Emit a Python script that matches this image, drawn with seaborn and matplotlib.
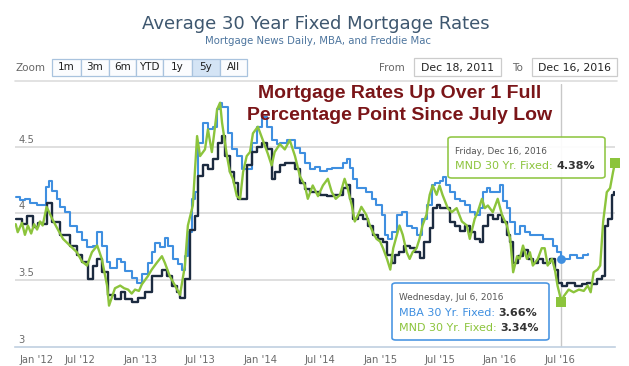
import matplotlib
matplotlib.use("Agg")
import matplotlib.pyplot as plt
import seaborn as sns
import pandas as pd
from matplotlib.patches import FancyBboxPatch, Rectangle

# ---------------- data ----------------
mba_dates = ["2011-12-19","2012-01-01","2012-01-16","2012-02-01","2012-02-22","2012-03-10","2012-03-20",
             "2012-03-30","2012-04-08","2012-04-23","2012-05-02","2012-05-17","2012-06-01","2012-06-22",
             "2012-07-08","2012-07-23","2012-08-10","2012-08-23","2012-09-06","2012-09-22","2012-10-01",
             "2012-10-22","2012-11-03","2012-11-15","2012-12-06","2012-12-22","2013-01-06","2013-01-24",
             "2013-02-05","2013-02-15","2013-03-02","2013-03-17","2013-03-26","2013-04-11","2013-04-26",
             "2013-05-08","2013-05-17","2013-05-26","2013-06-07","2013-06-16","2013-06-25","2013-07-11",
             "2013-07-26","2013-08-10","2013-08-23","2013-09-01","2013-09-07","2013-09-25","2013-10-07",
             "2013-10-22","2013-11-06","2013-11-21","2013-12-06","2013-12-22","2014-01-06","2014-01-21",
             "2014-02-05","2014-02-21","2014-03-02","2014-03-23","2014-04-01","2014-04-17","2014-05-02",
             "2014-05-17","2014-06-01","2014-06-16","2014-07-01","2014-07-22","2014-08-07","2014-08-25",
             "2014-09-09","2014-09-21","2014-10-01","2014-10-10","2014-10-22","2014-11-05","2014-11-20",
             "2014-12-06","2014-12-21","2015-01-06","2015-01-15","2015-01-24","2015-02-05","2015-02-21",
             "2015-03-08","2015-03-23","2015-04-07","2015-04-22","2015-05-08","2015-05-23","2015-06-07",
             "2015-06-16","2015-07-01","2015-07-10","2015-07-22","2015-08-01","2015-08-16","2015-09-01",
             "2015-09-16","2015-10-01","2015-10-16","2015-11-01","2015-11-10","2015-11-21","2015-12-01",
             "2015-12-16","2016-01-01","2016-01-10","2016-01-22","2016-02-01","2016-02-16","2016-03-01",
             "2016-03-16","2016-04-01","2016-04-22","2016-05-10","2016-05-25","2016-06-09","2016-06-21",
             "2016-07-06","2016-07-15","2016-08-01","2016-08-22","2016-09-09","2016-09-24"]
mba_vals = [4.12,4.10,4.11,4.08,4.06,4.06,4.20,
            4.24,4.17,4.11,4.05,4.01,3.91,3.86,
            3.80,3.75,3.76,3.86,3.76,3.64,3.59,
            3.66,3.64,3.57,3.52,3.48,3.55,3.63,
            3.71,3.78,3.75,3.82,3.76,3.66,3.62,
            3.58,3.68,3.86,4.11,4.16,4.53,4.68,
            4.63,4.65,4.78,4.83,4.80,4.60,4.48,
            4.43,4.33,4.33,4.53,4.65,4.72,4.65,
            4.55,4.52,4.53,4.55,4.55,4.49,4.45,
            4.38,4.33,4.35,4.32,4.33,4.34,4.34,
            4.38,4.41,4.34,4.26,4.19,4.19,4.16,
            4.11,4.06,3.99,3.84,3.81,3.86,3.99,
            4.01,3.91,3.89,3.84,3.96,4.06,4.21,
            4.23,4.24,4.27,4.21,4.16,4.11,4.09,
            4.06,4.01,3.99,4.04,4.16,4.19,4.16,
            4.16,4.21,4.09,4.04,3.94,3.85,3.91,
            3.86,3.84,3.84,3.81,3.81,3.76,3.71,
            3.66,3.66,3.69,3.67,3.69,3.70]

fred_dates = ["2011-12-19","2012-01-07","2012-01-22","2012-02-10","2012-02-25","2012-03-10","2012-03-22",
              "2012-04-08","2012-05-02","2012-06-01","2012-06-22","2012-07-08","2012-07-26","2012-08-10",
              "2012-08-23","2012-09-06","2012-09-25","2012-10-17","2012-11-03","2012-11-15","2012-12-06",
              "2012-12-25","2013-01-15","2013-02-05","2013-02-20","2013-03-08","2013-03-23","2013-04-08",
              "2013-04-23","2013-05-02","2013-05-17","2013-06-01","2013-06-16","2013-06-25","2013-07-11",
              "2013-07-26","2013-08-10","2013-08-26","2013-09-07","2013-09-16","2013-10-01","2013-10-13",
              "2013-10-26","2013-11-06","2013-11-21","2013-12-06","2013-12-22","2014-01-06","2014-01-21",
              "2014-02-05","2014-02-14","2014-03-02","2014-03-17","2014-04-01","2014-04-17","2014-05-02",
              "2014-05-17","2014-06-01","2014-06-16","2014-07-01","2014-07-22","2014-08-10","2014-08-25",
              "2014-09-09","2014-09-21","2014-10-01","2014-10-10","2014-10-26","2014-11-10","2014-11-25",
              "2014-12-10","2014-12-26","2015-01-10","2015-01-22","2015-02-05","2015-02-14","2015-03-01",
              "2015-03-16","2015-04-01","2015-04-16","2015-05-01","2015-05-16","2015-06-01","2015-06-10",
              "2015-06-22","2015-07-01","2015-07-16","2015-08-01","2015-08-16","2015-09-01","2015-09-16",
              "2015-10-01","2015-10-16","2015-11-01","2015-11-10","2015-11-25","2015-12-10","2015-12-25",
              "2016-01-07","2016-01-22","2016-02-01","2016-02-10","2016-02-26","2016-03-11","2016-03-26",
              "2016-04-10","2016-04-25","2016-05-10","2016-05-31","2016-06-15","2016-06-24","2016-07-09",
              "2016-07-24","2016-08-15","2016-09-06","2016-09-21","2016-10-06","2016-10-21","2016-11-06",
              "2016-11-15","2016-11-24","2016-12-06","2016-12-13"]
fred_vals = [3.96,3.92,3.98,3.90,3.93,3.92,4.08,
             3.94,3.84,3.76,3.69,3.64,3.51,3.61,
             3.66,3.56,3.39,3.36,3.41,3.36,3.34,
             3.37,3.41,3.53,3.53,3.58,3.53,3.46,
             3.41,3.37,3.51,3.88,3.98,4.28,4.36,
             4.33,4.41,4.53,4.58,4.43,4.31,4.23,
             4.11,4.11,4.36,4.46,4.50,4.53,4.48,
             4.26,4.31,4.36,4.38,4.38,4.33,4.23,
             4.18,4.16,4.16,4.14,4.13,4.14,4.14,
             4.19,4.21,4.11,3.96,3.99,3.96,3.91,
             3.84,3.81,3.79,3.69,3.63,3.69,3.71,
             3.76,3.74,3.71,3.67,3.79,3.89,4.04,
             4.06,4.04,4.04,3.94,3.91,3.87,3.91,
             3.86,3.81,3.79,3.91,3.99,3.96,3.99,
             3.94,3.84,3.79,3.63,3.68,3.73,3.66,
             3.63,3.66,3.63,3.66,3.58,3.48,3.46,
             3.48,3.46,3.47,3.48,3.47,3.51,3.53,
             3.91,3.96,4.14,4.16]

mnd_dates = ["2011-12-19","2011-12-25","2012-01-07","2012-01-16","2012-01-25","2012-02-04","2012-02-13",
             "2012-02-22","2012-03-02","2012-03-10","2012-03-22","2012-04-08","2012-04-23","2012-05-11",
             "2012-06-01","2012-06-22","2012-07-08","2012-07-23","2012-08-07","2012-08-23","2012-09-06",
             "2012-09-22","2012-09-28","2012-10-16","2012-11-01","2012-11-13","2012-11-25","2012-12-06",
             "2012-12-16","2012-12-28","2013-01-06","2013-01-24","2013-02-05","2013-02-20","2013-03-08",
             "2013-03-17","2013-04-01","2013-04-17","2013-05-02","2013-05-17","2013-05-26","2013-06-10",
             "2013-06-23","2013-07-02","2013-07-17","2013-07-26","2013-08-07","2013-08-23","2013-09-01",
             "2013-09-07","2013-09-22","2013-10-01","2013-10-10","2013-10-22","2013-11-01","2013-11-10",
             "2013-11-21","2013-12-01","2013-12-10","2013-12-25","2014-01-09","2014-01-24","2014-02-05",
             "2014-02-14","2014-03-02","2014-03-17","2014-04-01","2014-04-17","2014-05-02","2014-05-17",
             "2014-05-26","2014-06-10","2014-06-26","2014-07-11","2014-07-26","2014-08-07","2014-08-19",
             "2014-09-01","2014-09-15","2014-09-24","2014-10-07","2014-10-16","2014-10-26","2014-11-05",
             "2014-11-20","2014-12-01","2014-12-10","2014-12-21","2015-01-01","2015-01-10","2015-01-22",
             "2015-02-01","2015-02-10","2015-02-21","2015-03-01","2015-03-11","2015-03-23","2015-04-01",
             "2015-04-10","2015-04-22","2015-05-01","2015-05-10","2015-05-22","2015-06-01","2015-06-10",
             "2015-06-22","2015-07-01","2015-07-10","2015-07-26","2015-08-07","2015-08-22","2015-09-07",
             "2015-09-22","2015-10-01","2015-10-16","2015-10-25","2015-11-07","2015-11-16","2015-11-25",
             "2015-12-10","2015-12-25","2016-01-07","2016-01-22","2016-02-01","2016-02-10","2016-02-22",
             "2016-03-01","2016-03-11","2016-03-23","2016-04-01","2016-04-10","2016-04-25","2016-05-07",
             "2016-05-16","2016-05-25","2016-06-07","2016-06-16","2016-06-24","2016-07-06","2016-07-13",
             "2016-07-28","2016-08-12","2016-08-28","2016-09-12","2016-09-24","2016-10-03","2016-10-12",
             "2016-10-24","2016-11-01","2016-11-10","2016-11-21","2016-12-01","2016-12-10","2016-12-16"]
mnd_vals = [3.92,3.86,3.93,3.84,3.91,3.85,3.92,
            3.88,3.94,3.91,4.05,3.96,3.89,3.81,
            3.76,3.71,3.64,3.61,3.71,3.76,3.66,
            3.46,3.31,3.44,3.46,3.44,3.43,3.40,
            3.43,3.42,3.47,3.53,3.58,3.63,3.68,
            3.63,3.53,3.46,3.39,3.61,3.91,4.06,
            4.58,4.43,4.48,4.63,4.46,4.78,4.83,
            4.68,4.43,4.31,4.26,4.13,4.11,4.31,
            4.43,4.46,4.60,4.65,4.55,4.45,4.36,
            4.46,4.52,4.48,4.55,4.43,4.28,4.21,
            4.11,4.21,4.13,4.21,4.26,4.16,4.11,
            4.14,4.26,4.19,4.06,3.94,3.99,4.05,
            3.99,3.91,3.86,3.81,3.79,3.74,3.66,
            3.58,3.74,3.84,3.91,3.84,3.71,3.66,
            3.71,3.74,3.81,3.91,3.99,4.14,4.21,
            4.14,4.21,4.14,4.04,4.01,4.04,3.94,
            3.91,3.81,3.96,4.01,4.11,4.04,4.06,
            4.01,4.11,3.99,3.91,3.81,3.56,3.68,
            3.66,3.76,3.66,3.71,3.61,3.66,3.74,
            3.74,3.61,3.66,3.58,3.46,3.34,3.38,
            3.43,3.41,3.43,3.42,3.46,3.41,3.56,
            3.58,3.61,3.94,4.16,4.19,4.31,4.38]

series_names = ["MBA 30 Yr. Fixed", "Freddie Mac 30 Yr. Fixed", "MND 30 Yr. Fixed"]
xtick_dates = ["2012-01-01","2012-07-01","2013-01-01","2013-07-01","2014-01-01","2014-07-01",
               "2015-01-01","2015-07-01","2016-01-01","2016-07-01"]
xtick_labels = ["Jan '12","Jul '12","Jan '13","Jul '13","Jan '14","Jul '14",
                "Jan '15","Jul '15","Jan '16","Jul '16"]
ytick_vals = [3, 3.5, 4, 4.5]
ytick_labels = ["3", "3.5", "4", "4.5"]
range_from, range_to = "2011-12-18", "2016-12-16"
zoom_buttons = ["1m", "3m", "6m", "YTD", "1y", "5y", "All"]
selected_button = "5y"
hover_date = "2016-07-06"
title = "Average 30 Year Fixed Mortgage Rates"
subtitle = "Mortgage News Daily, MBA, and Freddie Mac"
note_lines = ["Mortgage Rates Up Over 1 Full", "Percentage Point Since July Low"]

# ---------------- style ----------------
sns.set_style("white")
plt.rcParams["font.family"] = ["DejaVu Sans"]

W, H = 629, 366
fig = plt.figure(figsize=(W / 100, H / 100), dpi=100)

def fx(x):
    return x / W

def fy(y):
    return 1 - y / H

C_MBA = "#3F8FE0"
C_FRED = "#1C2B40"
C_MND = "#8CC43C"
C_GRID = "#D9D9D9"
C_AXIS = "#C0D0E0"

# plot area
left_px, right_px, top_px, bot_px = 15.4, 615.0, 84.0, 347.0
ax = fig.add_axes([fx(left_px), fy(bot_px), (right_px - left_px) / W, (bot_px - top_px) / H])
ax.set_facecolor("none")

mba = pd.DataFrame({"date": pd.to_datetime(mba_dates), "rate": mba_vals})
fred = pd.DataFrame({"date": pd.to_datetime(fred_dates), "rate": fred_vals})
mnd = pd.DataFrame({"date": pd.to_datetime(mnd_dates), "rate": mnd_vals})

# grid lines
for v in ytick_vals[1:]:
    ax.axhline(v, color=C_GRID, lw=1.2, zorder=0)

hd = pd.Timestamp(hover_date)
ax.axvline(hd, color="#C8C8C8", lw=1, zorder=0.5)

sns.lineplot(data=mba, x="date", y="rate", ax=ax, color=C_MBA, lw=1.5,
             drawstyle="steps-post", estimator=None, zorder=2)
sns.lineplot(data=fred, x="date", y="rate", ax=ax, color=C_FRED, lw=1.7,
             drawstyle="steps-post", estimator=None, zorder=3)
sns.lineplot(data=mnd, x="date", y="rate", ax=ax, color=C_MND, lw=1.7,
             estimator=None, zorder=4)

ax.set_xlim(pd.Timestamp(range_from), pd.Timestamp(range_to))
ax.set_ylim(3, 4.97)
ax.set_xlabel("")
ax.set_ylabel("")

# hover markers
mba_h = mba.loc[mba["date"] == hd, "rate"].iloc[0]
mnd_h = mnd.loc[mnd["date"] == hd, "rate"].iloc[0]
mnd_last = mnd.iloc[-1]
ax.scatter([hd], [mba_h], s=40, color=C_MBA, zorder=6, clip_on=False, linewidths=0)
ax.scatter([hd], [mnd_h], s=55, marker="s", color=C_MND, zorder=6, clip_on=False, linewidths=0)
ax.scatter([mnd_last["date"]], [mnd_last["rate"]], s=55, marker="s", color=C_MND,
           zorder=6, clip_on=False, linewidths=0)

# axes styling
for s in ["top", "right", "left"]:
    ax.spines[s].set_visible(False)
ax.spines["bottom"].set_color(C_AXIS)
ax.spines["bottom"].set_linewidth(1.2)
ax.set_yticks([])
ax.set_xticks(pd.to_datetime(xtick_dates))
ax.set_xticklabels(xtick_labels)
ax.tick_params(axis="x", direction="out", length=5, width=1, color=C_AXIS,
               labelcolor="#6B6B6B", labelsize=7.2, pad=0.8)
# first label is justified inside the chart, as the reference does
ax.get_xticklabels()[0].set_horizontalalignment("left")
for v, lab in zip(ytick_vals, ytick_labels):
    ax.annotate(lab, xy=(0, v), xycoords=ax.get_yaxis_transform(),
                xytext=(2, 1.5), textcoords="offset points",
                ha="left", va="bottom", fontsize=7.2, color="#6B6B6B")

# ---------------- header ----------------
fig.text(fx(316), fy(24), title, ha="center", va="center", fontsize=13, color="#3E576F")
fig.text(fx(318), fy(41), subtitle, ha="center", va="center", fontsize=7.3, color="#4D759E")

# range selector
fig.text(fx(16), fy(68), "Zoom", ha="left", va="center", fontsize=7.5, color="#666666")
edges = [52, 81, 109, 136, 163, 192, 220, 247]
for i, lab in enumerate(zoom_buttons):
    x0, x1 = edges[i], edges[i + 1]
    sel = lab == selected_button
    fig.patches.append(Rectangle((fx(x0), fy(76)), fx(x1 - x0), 17 / H,
                                 transform=fig.transFigure,
                                 facecolor="#D4E4F5" if sel else "#FBFCFE",
                                 edgecolor="#A9C3DE", lw=0.9))
    fig.text(fx((x0 + x1) / 2), fy(67.5), lab, ha="center", va="center",
             fontsize=7.5, color="#1F1F1F")

fig.text(fx(392), fy(68), "From", ha="center", va="center", fontsize=7.5, color="#666666")
fig.patches.append(Rectangle((fx(414), fy(76)), fx(87), 18 / H, transform=fig.transFigure,
                             facecolor="white", edgecolor="#CCCCCC", lw=0.9))
fig.text(fx(457.5), fy(67.5), pd.Timestamp(range_from).strftime("%b %d, %Y"),
         ha="center", va="center", fontsize=7.8, color="#222222")
fig.text(fx(517), fy(68), "To", ha="center", va="center", fontsize=7.5, color="#666666")
fig.patches.append(Rectangle((fx(532), fy(76)), fx(85), 18 / H, transform=fig.transFigure,
                             facecolor="white", edgecolor="#CCCCCC", lw=0.9))
fig.text(fx(574.5), fy(67.5), pd.Timestamp(range_to).strftime("%b %d, %Y"),
         ha="center", va="center", fontsize=7.8, color="#222222")

fig.add_artist(plt.Line2D([fx(15), fx(617)], [fy(81), fy(81)], color="#DDDDDD", lw=1.2))

# note
fig.text(fx(400), fy(93), note_lines[0], ha="center", va="center", fontsize=14,
         fontweight="bold", color="#7A1518", family="Liberation Sans", zorder=10)
fig.text(fx(400), fy(115), note_lines[1], ha="center", va="center", fontsize=14,
         fontweight="bold", color="#7A1518", family="Liberation Sans", zorder=10)

# ---------------- tooltips ----------------
def tooltip(x0, y0, x1, y1, color):
    p = FancyBboxPatch((fx(x0), fy(y1)), fx(x1 - x0), (y1 - y0) / H,
                       boxstyle="round,pad=0,rounding_size=0.006",
                       transform=fig.transFigure, facecolor="white", alpha=0.93,
                       edgecolor=color, lw=1.2, zorder=20)
    fig.patches.append(p)

def value_line(x, y, label, value, color):
    t = fig.text(fx(x), fy(y), label + ": ", ha="left", va="center",
                 fontsize=8, color=color, zorder=21)
    a = fig.add_artist(plt.Annotation(f"{value:.2f}%", xy=(1, 0.5), xycoords=t,
                                      ha="left", va="center", fontsize=8,
                                      fontweight="bold", color="#333333"))
    a.set_zorder(21)

tooltip(448, 137, 605, 178, C_MND)
fig.text(fx(455), fy(151), mnd_last["date"].strftime("%A, %b %d, %Y").replace(" 0", " "),
         ha="left", va="center", fontsize=6.4, color="#555555", zorder=21)
value_line(455, 166, series_names[2], mnd_last["rate"], C_MND)

tooltip(392, 283, 549, 340, C_MBA)
fig.text(fx(399), fy(298), hd.strftime("%A, %b %d, %Y").replace(" 0", " "),
         ha="left", va="center", fontsize=6.4, color="#555555", zorder=21)
value_line(399, 313, series_names[0], mba_h, C_MBA)
value_line(399, 328, series_names[2], mnd_h, C_MND)

fig.savefig("out.png", dpi=100, facecolor="white")
